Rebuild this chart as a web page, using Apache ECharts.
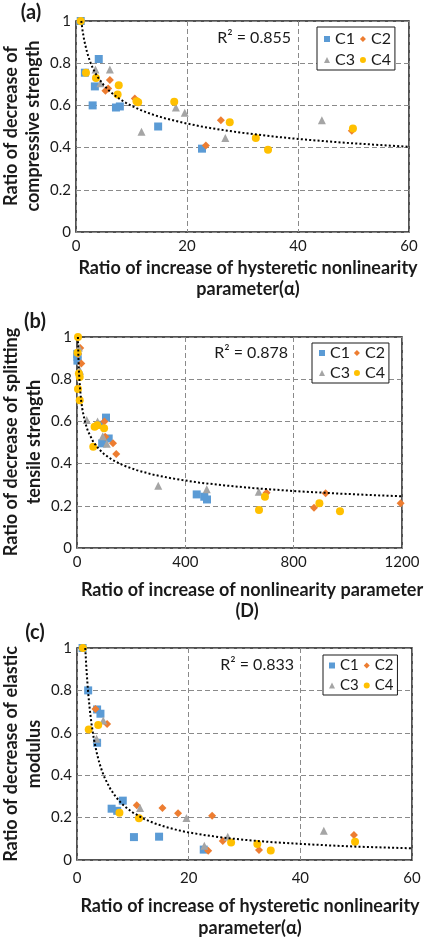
<!DOCTYPE html>
<html>
<head>
<meta charset="utf-8">
<script src="https://cdn.jsdelivr.net/npm/echarts@6/dist/echarts.min.js"></script>
<style>html,body{margin:0;padding:0;background:#fff;}#chart{width:427px;height:942px;}</style>
</head>
<body>
<div id="chart"></div>
<script>
// ---------- Data ----------
var seriesNames = ['C1', 'C2', 'C3', 'C4'];

// Panel (a): compressive strength vs hysteretic nonlinearity (alpha)
var a_C1 = [[0.85,1.0],[1.6,0.755],[4.1,0.82],[3.4,0.69],[3.0,0.60],[7.2,0.59],[7.9,0.595],[14.8,0.50],[22.7,0.395]];
var a_C2 = [[6.1,0.72],[5.8,0.68],[5.3,0.67],[10.6,0.633],[23.4,0.41],[26.1,0.53],[49.7,0.48]];
var a_C3 = [[3.5,0.77],[6.1,0.77],[4.4,0.705],[11.8,0.475],[18.0,0.59],[19.6,0.565],[26.9,0.445],[44.3,0.53]];
var a_C4 = [[0.85,1.0],[1.8,0.755],[3.6,0.73],[7.7,0.695],[7.5,0.652],[10.9,0.62],[11.2,0.615],[17.7,0.617],[27.7,0.52],[32.4,0.445],[34.6,0.39],[49.9,0.49]];
// dotted power trendline
var a_trend = [[0.95,1.0],[1.2,0.951],[1.5,0.906],[2,0.851],[2.5,0.810],[3,0.778],[3.5,0.752],[4,0.731],[5,0.696],[6,0.669],[7,0.647],[8,0.628],[9,0.612],[10,0.598],[12,0.574],[14,0.555],[16,0.539],[18,0.526],[20,0.514],[23,0.498],[26,0.485],[30,0.470],[35,0.454],[40,0.441],[45,0.430],[50,0.420],[55,0.412],[60,0.404]];
var a_r2 = 'R\u00B2 = 0.855';

// Panel (b): splitting tensile strength vs nonlinearity parameter (D)
var b_C1 = [[1,0.92],[2,0.905],[1.5,0.888],[107,0.618],[85,0.584],[93,0.496],[117,0.519],[442,0.254],[470,0.243],[480,0.23]];
var b_C2 = [[12,0.948],[16,0.875],[3.7,0.92],[101,0.60],[104,0.527],[133,0.496],[145,0.445],[700,0.262],[875,0.191],[918,0.259],[1195,0.212]];
var b_C3 = [[7,0.95],[11,0.84],[36,0.607],[76,0.60],[95,0.53],[110,0.494],[300,0.295],[479,0.279],[671,0.267]];
var b_C4 = [[3.7,1.0],[2,0.925],[7,0.827],[10,0.81],[3.7,0.754],[10,0.70],[60,0.48],[65,0.575],[75,0.582],[100,0.568],[672,0.18],[694,0.243],[895,0.212],[971,0.174]];
var b_trend = [[3.44,1.0],[5,0.914],[7,0.843],[10,0.774],[15,0.702],[20,0.655],[30,0.595],[40,0.555],[60,0.503],[80,0.470],[100,0.445],[130,0.418],[170,0.392],[220,0.369],[280,0.348],[350,0.330],[450,0.310],[550,0.296],[650,0.284],[800,0.270],[950,0.259],[1100,0.250],[1200,0.245]];
var b_r2 = 'R\u00B2 = 0.878';

// Panel (c): elastic modulus vs hysteretic nonlinearity (alpha)
var c_C1 = [[1.0,1.0],[2.0,0.80],[3.6,0.71],[4.2,0.69],[3.6,0.553],[8.2,0.28],[6.2,0.242],[7.2,0.232],[10.2,0.108],[14.7,0.11],[22.7,0.049]];
var c_C2 = [[3.3,0.712],[5.4,0.642],[10.7,0.258],[15.3,0.245],[18.1,0.22],[24.2,0.209],[23.5,0.044],[26.1,0.09],[32.6,0.047],[49.6,0.118]];
var c_C3 = [[4.7,0.658],[3.5,0.572],[11.3,0.245],[19.6,0.198],[22.8,0.067],[27.0,0.11],[44.2,0.138]];
var c_C4 = [[1.05,1.0],[2.1,0.615],[3.8,0.637],[7.6,0.223],[11.1,0.197],[27.6,0.083],[32.3,0.075],[34.7,0.045],[49.8,0.086]];
var c_trend = [[1.48,1.0],[1.7,0.896],[2,0.788],[2.3,0.707],[2.6,0.642],[3,0.574],[3.5,0.509],[4,0.458],[4.5,0.418],[5,0.385],[6,0.334],[7,0.296],[8,0.266],[9,0.243],[10,0.224],[12,0.194],[14,0.172],[16,0.155],[18,0.141],[20,0.130],[23,0.117],[26,0.106],[30,0.095],[35,0.084],[40,0.076],[45,0.069],[50,0.063],[55,0.059],[60,0.055]];
var c_r2 = 'R\u00B2 = 0.833';

// Axis tick settings
var xTicksAlpha = {min: 0, max: 60, interval: 20};
var xTicksD = {min: 0, max: 1200, interval: 400};
var yTicks = {min: 0, max: 1, interval: 0.2};

// ---------- Styling ----------
var FONT = 'Lato';
var colors = {C1: '#5B9BD5', C2: '#ED7D31', C3: '#A5A5A5', C4: '#FFC000'};
var symbols = {C1: 'rect', C2: 'diamond', C3: 'triangle', C4: 'circle'};
var sizes = {C1: 8, C2: 8, C3: 8, C4: 8};

var grids = [
  {left: 76, top: 21, width: 333, height: 211},
  {left: 77, top: 337, width: 325, height: 211},
  {left: 77, top: 648, width: 335, height: 212}
];
grids.forEach(function (g) { g.show = true; g.borderColor = '#1a1a1a'; g.borderWidth = 1.5; g.backgroundColor = 'transparent'; });

var xTickSets = [xTicksAlpha, xTicksD, xTicksAlpha];
var xLabelMargins = [7, 7, 11];

function fmtY(v) { if (v === 0) return '0'; if (v === 1) return '1'; return v.toFixed(1); }
function fmtX(v) { return String(v); }

var xAxes = xTickSets.map(function (t, i) {
  return {
    type: 'value', gridIndex: i, min: t.min, max: t.max, interval: t.interval,
    axisLine: {show: false}, axisTick: {show: false},
    splitLine: {show: true, lineStyle: {color: '#8a8a8a', width: 1, type: [5, 3]}},
    axisLabel: {fontFamily: FONT, fontSize: 15, color: '#1a1a1a', margin: xLabelMargins[i], formatter: fmtX}
  };
});
var yAxes = [0, 1, 2].map(function (i) {
  return {
    type: 'value', gridIndex: i, min: yTicks.min, max: yTicks.max, interval: yTicks.interval,
    axisLine: {show: false}, axisTick: {show: false},
    splitLine: {show: true, lineStyle: {color: '#8a8a8a', width: 1, type: [5, 3]}},
    axisLabel: {fontFamily: FONT, fontSize: 15, color: '#1a1a1a', margin: 5, formatter: fmtY}
  };
});

var panelData = [
  {C1: a_C1, C2: a_C2, C3: a_C3, C4: a_C4, trend: a_trend},
  {C1: b_C1, C2: b_C2, C3: b_C3, C4: b_C4, trend: b_trend},
  {C1: c_C1, C2: c_C2, C3: c_C3, C4: c_C4, trend: c_trend}
];

var series = [];
panelData.forEach(function (p, i) {
  seriesNames.forEach(function (n) {
    series.push({
      name: n, type: 'scatter', xAxisIndex: i, yAxisIndex: i,
      symbol: symbols[n], symbolSize: sizes[n],
      itemStyle: {color: colors[n], opacity: 1},
      data: p[n]
    });
  });
  series.push({
    name: 'Power trend', type: 'line', xAxisIndex: i, yAxisIndex: i,
    data: p.trend, smooth: false, showSymbol: false, symbol: 'none', clip: true,
    lineStyle: {color: '#000', width: 2, type: [2, 2.2]}, z: 5, silent: true
  });
});

// Legends (2 x 2 boxes)
var legendSpecs = [
  {left: 317, top: 27, padding: [4, 4, 2, 7], gapText: 8, fontSize: 16, itemGap: 5},
  {left: 312, top: 343, padding: [2, 4, 2, 7], gapText: 6, fontSize: 16, itemGap: 4},
  {left: 323, top: 655, padding: [3, 4, 2, 6], gapText: 6, fontSize: 15, itemGap: 5}
];
var legends = legendSpecs.map(function (s) {
  return {
    left: s.left, top: s.top, orient: 'horizontal', width: 70,
    padding: s.padding, itemGap: s.itemGap, itemWidth: 6, itemHeight: 6,
    backgroundColor: '#fff', borderColor: '#1a1a1a', borderWidth: 1, borderRadius: 0,
    textStyle: {fontFamily: FONT, fontSize: s.fontSize, color: '#1a1a1a'},
    data: [
      {name: 'C1', textStyle: {padding: [0, s.gapText, 0, 0]}},
      {name: 'C2'},
      {name: 'C3', textStyle: {padding: [0, s.gapText, 0, 0]}},
      {name: 'C4'}
    ],
    selectedMode: false
  };
});

// Text annotations
function txt(x, y, s, size, opts) {
  opts = opts || {};
  return {
    type: 'text', x: x, y: y, rotation: opts.rot || 0, z: 100,
    style: {text: s, fontFamily: FONT, fontSize: size, fontWeight: opts.bold ? 'bold' : 'normal',
      fill: '#1a1a1a', align: opts.align || 'center', verticalAlign: 'middle'}
  };
}
var R = Math.PI / 2;
var TS = 18;
var graphics = [
  txt(31, 13, '(a)', 20, {bold: true}),
  txt(35, 322, '(b)', 20, {bold: true}),
  txt(35, 633, '(c)', 20, {bold: true}),
  txt(291, 38, a_r2, 16, {align: 'right'}),
  txt(288, 353, b_r2, 16, {align: 'right'}),
  txt(294, 665, c_r2, 16, {align: 'right'}),
  // y-axis titles
  txt(11, 126, 'Ratio of decrease of', TS, {bold: true, rot: R}),
  txt(33, 126, 'compressive strength', TS, {bold: true, rot: R}),
  txt(11, 442, 'Ratio of decrease of splitting', TS, {bold: true, rot: R}),
  txt(34, 442, 'tensile strength', TS, {bold: true, rot: R}),
  txt(11, 754, 'Ratio of decrease of elastic', TS, {bold: true, rot: R}),
  txt(34, 754, 'modulus', TS, {bold: true, rot: R}),
  // x-axis titles
  txt(248, 268, 'Ratio of increase of hysteretic nonlinearity', TS, {bold: true}),
  txt(248, 289, 'parameter(\u03B1)', TS, {bold: true}),
  txt(252, 590, 'Ratio of increase of nonlinearity parameter', TS, {bold: true}),
  txt(247, 611, '(D)', TS, {bold: true}),
  txt(250, 906, 'Ratio of increase of hysteretic nonlinearity', TS, {bold: true}),
  txt(250, 928, 'parameter(\u03B1)', TS, {bold: true})
];

var chart = echarts.init(document.getElementById('chart'), null, {renderer: 'canvas'});
chart.setOption({
  animation: false,
  backgroundColor: '#fff',
  textStyle: {fontFamily: FONT},
  grid: grids,
  xAxis: xAxes,
  yAxis: yAxes,
  legend: legends,
  series: series,
  graphic: graphics
});
</script>
</body>
</html>
